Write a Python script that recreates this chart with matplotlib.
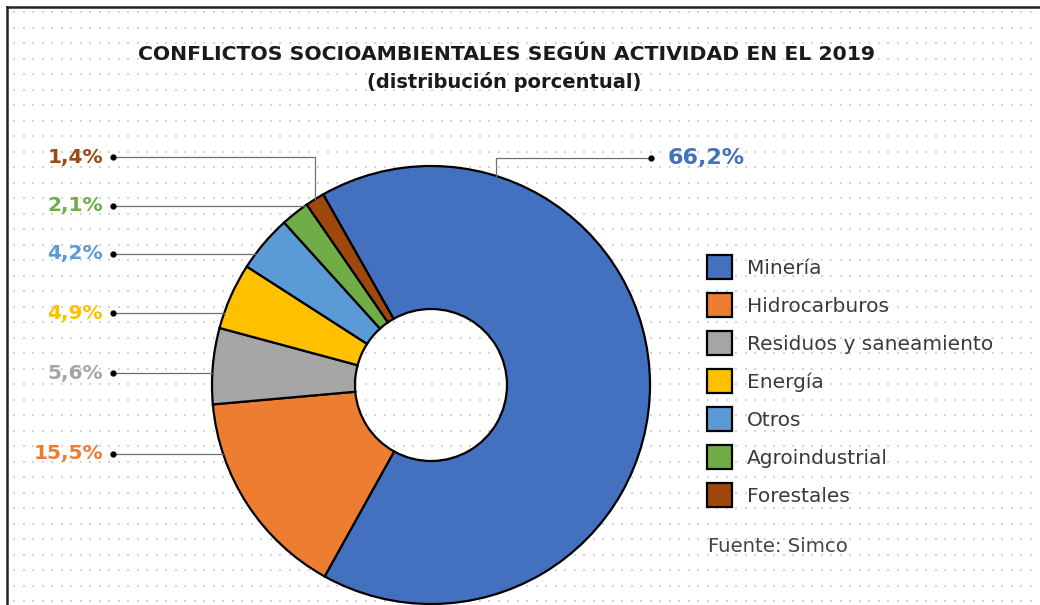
import numpy as np
import matplotlib.pyplot as plt
from matplotlib.lines import Line2D

W, H = 1040, 605

actividades = ['Minería', 'Hidrocarburos', 'Residuos y saneamiento', 'Energía',
               'Otros', 'Agroindustrial', 'Forestales']
porcentajes = [66.2, 15.5, 5.6, 4.9, 4.2, 2.1, 1.4]
etiquetas = ['66,2%', '15,5%', '5,6%', '4,9%', '4,2%', '2,1%', '1,4%']
colores = ['#4470C0', '#ED7D31', '#A5A5A5', '#FFC000', '#5B9BD5', '#70AD47', '#9E480E']

# donut geometry (pixel units, y grows downward)
cx, cy, r_out, r_in = 431, 385, 219, 76
start = -119.5

fig = plt.figure(figsize=(W / 100, H / 100), dpi=100)
ax = fig.add_axes([0, 0, 1, 1])

# faint dotted background
gx, gy = np.meshgrid(np.arange(14, W, 9.5), np.arange(12, H, 15.5))
ax.scatter(gx.ravel(), gy.ravel(), s=1.8, color='#d4d4d4', marker='s', lw=0, zorder=0)

wedges, _ = ax.pie(porcentajes, colors=colores, center=(cx, cy), radius=r_out,
                   startangle=start, counterclock=True,
                   wedgeprops=dict(width=r_out - r_in, edgecolor='black', linewidth=1.6))
ax.set_xlim(0, W)
ax.set_ylim(H, 0)
ax.set_aspect('auto')
ax.axis('off')

# angles of each wedge centre (data coords, axis inverted)
tot = sum(porcentajes)
cum = np.cumsum([0] + porcentajes)
mid = np.radians(start + (cum[:-1] + cum[1:]) / 2 / tot * 360)

lab_font = dict(fontsize=14.5, fontweight='bold', family='DejaVu Sans')
line_kw = dict(color='#707070', lw=0.9, zorder=3)

# left-hand labels: horizontal leader to the ring edge
lab_y = {1: 454, 2: 373, 3: 313, 4: 254, 5: 206, 6: 157}
lab_x = 113
for i, y in lab_y.items():
    if abs(y - cy) < r_out and i != 6:
        xe = cx - np.sqrt(r_out ** 2 - (y - cy) ** 2)
        ax.plot([lab_x, xe], [y, y], **line_kw)
    else:
        xe = cx + r_out * np.cos(mid[i])
        ye = cy + r_out * np.sin(mid[i])
        ax.plot([lab_x, xe, xe], [y, y, ye], **line_kw)
    ax.plot(lab_x, y, 'o', color='black', ms=3.5, zorder=4)
    ax.text(lab_x - 10, y, etiquetas[i], color=colores[i], ha='right', va='center', **lab_font)

# Minería label on the right
y0, xd = 158, 651
xe = 496
ye = cy - np.sqrt(r_out ** 2 - (xe - cx) ** 2)
ax.plot([xd, xe, xe], [y0, y0, ye], **line_kw)
ax.plot(xd, y0, 'o', color='black', ms=3.5, zorder=4)
ax.text(xd + 17, y0, etiquetas[0], color=colores[0], ha='left', va='center',
        **dict(lab_font, fontsize=16))

# title
ax.text(506, 55, 'CONFLICTOS SOCIOAMBIENTALES SEGÚN ACTIVIDAD EN EL 2019',
        ha='center', va='center', fontsize=14.7, fontweight='bold', color='#1a1a1a')
ax.text(504, 82, '(distribución porcentual)', ha='center', va='center',
        fontsize=14, fontweight='bold', color='#1a1a1a')

# legend
leg = fig.legend(wedges, actividades, loc='upper left',
                 bbox_to_anchor=(697 / W, 1 - 245 / H), frameon=False,
                 prop=dict(family='DejaVu Sans', size=14.5), labelcolor='#3a3a3a',
                 handlelength=1.25, handleheight=1.45, handletextpad=0.72,
                 labelspacing=0.7, borderpad=0)

ax.text(708, 547, 'Fuente: Simco', ha='left', va='center', fontsize=14.2,
        family='DejaVu Sans', color='#444444')

# frame on the left and top
fig.add_artist(Line2D([7 / W, 7 / W], [0, 1 - 7 / H], color='#222222', lw=1.8))
fig.add_artist(Line2D([7 / W, 1], [1 - 7 / H, 1 - 7 / H], color='#222222', lw=1.8))

fig.savefig('out.png', dpi=100, facecolor='white')
